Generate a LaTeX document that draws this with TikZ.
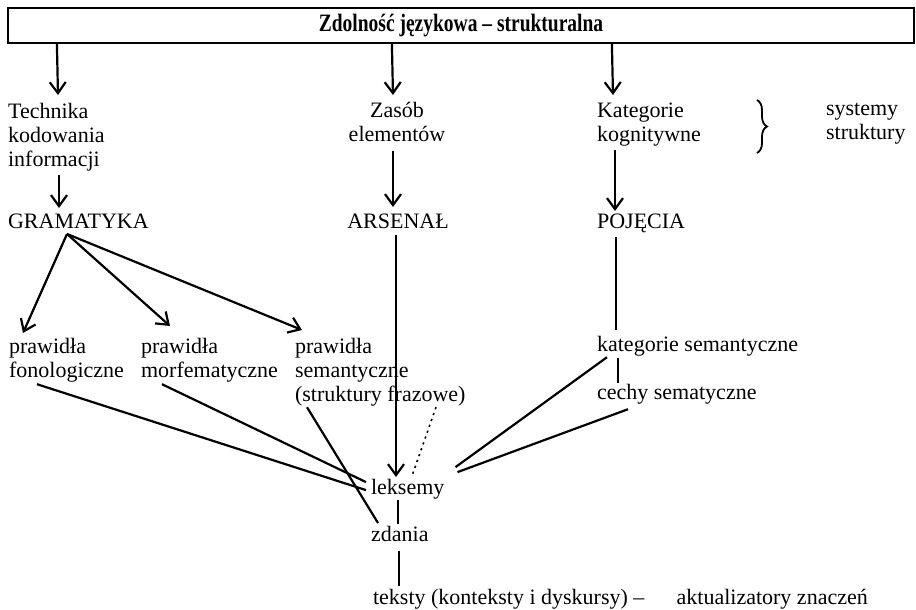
\documentclass[tikz,border=0pt]{standalone}
\usepackage{fontspec}
\setmainfont{Liberation Serif}
\newfontfamily\titlefam[FakeStretch=0.78]{Liberation Serif}
\usetikzlibrary{calc, arrows.meta, positioning, decorations.pathreplacing}

\begin{document}
\begin{tikzpicture}[x=0.5pt, y=-0.5pt, every node/.style={inner sep=0pt, font=\fontsize{11}{12}\selectfont}, lbl/.style={anchor=north west, align=left}, arr/.style={-{Straight Barb[length=5.5pt, width=8pt]}}, every path/.style={line width=1.1pt}]
			\useasboundingbox (0,0) rectangle (916,610);
			\node[draw, line width=1.1pt, minimum width=453pt, minimum height=17.5pt, font=\titlefam\bfseries\fontsize{12.5}{14}\selectfont] (title) at (461,25.5) {Zdolność językowa – strukturalna};
			\node[lbl] (tech) at (7,102) {Technika\\kodowania\\informacji};
			\node[anchor=north, align=center] (zasob) at (397,101) {Zasób\\elementów};
			\node[lbl] (kat) at (596,102) {Kategorie\\kognitywne};
			\node[lbl] (sys) at (825,102) {systemy\\struktury};
			\node[lbl] (gram) at (7,213) {GRAMATYKA};
			\node[anchor=north] (ars) at (398,213) {ARSENAŁ};
			\node[lbl] (poj) at (596,213) {POJĘCIA};
			\node[lbl] (fon) at (8,337) {prawidła\\fonologiczne};
			\node[lbl] (morf) at (140,337) {prawidła\\morfematyczne};
			\node[lbl] (sem) at (294,337) {prawidła\\semantyczne\\(struktury frazowe)};
			\node[lbl] (katsem) at (596,335) {kategorie semantyczne};
			\node[lbl] (cechy) at (596,383) {cechy sematyczne};
			\node[lbl] (leks) at (370,478) {leksemy};
			\node[lbl] (zdan) at (370,525) {zdania};
			\node[lbl] (tekst) at (372,588) {teksty (konteksty i dyskursy) --};
			\node[base right=15pt of tekst] (akt) {aktualizatory znaczeń};
			\draw[arr] ($(title.south west)+(50,0)$) -- ($(tech.north west)+(51,-7)$);
			\draw[arr] ($(title.south west)+(385,0)$) -- ($(zasob.north)+(-4,-6)$);
			\draw[arr] ($(title.south west)+(605,0)$) -- ($(kat.north west)+(17,-7)$);
			\draw[arr] ($(tech.south west)+(52,3)$) -- ($(gram.north west)+(52,-5)$);
			\draw[arr] ($(zasob.south)+(-4,8)$) -- ($(ars.north)+(-5,-6)$);
			\draw[arr] ($(kat.south west)+(19,2)$) -- ($(poj.north west)+(19,-2)$);
			\draw[line width=0.9pt, decorate, decoration={brace, amplitude=5pt}] (757,100) -- (757,153);
			\draw[arr] ($(gram.south west)+(60,4)$) -- ($(fon.north west)+(15,-4)$);
			\draw[arr] ($(gram.south west)+(60,4)$) -- ($(morf.north west)+(30,-11)$);
			\draw[arr] ($(gram.south west)+(60,4)$) -- ($(sem.north west)+(8,-7)$);
			\draw[arr] ($(ars.south)+(-2,5)$) -- ($(leks.north west)+(26,-1)$);
			\draw ($(poj.south west)+(20,3)$) -- ($(katsem.north west)+(20,-5)$);
			\draw ($(katsem.south west)+(22,1)$) -- ($(cechy.north west)+(22,0)$);
			\draw ($(leks.south west)+(28,0)$) -- ($(zdan.north west)+(28,-1)$);
			\draw ($(zdan.south west)+(29,8)$) -- ($(tekst.north west)+(27,-2)$);
			\draw ($(fon.south west)+(29,1)$) -- ($(leks.west)+(-4,1)$);
			\draw ($(morf.south west)+(22,1)$) -- ($(leks.west)+(-4,-7)$);
			\draw ($(sem.south west)+(13,0)$) -- ($(zdan.north west)+(8,-2)$);
			\draw[dotted, line width=0.8pt] ($(sem.south west)+(142,0)$) -- ($(leks.north west)+(42,-2)$);
			\draw ($(katsem.south west)+(11,0)$) -- ($(leks.east)+(10,-22)$);
			\draw ($(cechy.south west)+(32,4)$) -- ($(leks.east)+(12,-17)$);
		\end{tikzpicture}
\end{document}
